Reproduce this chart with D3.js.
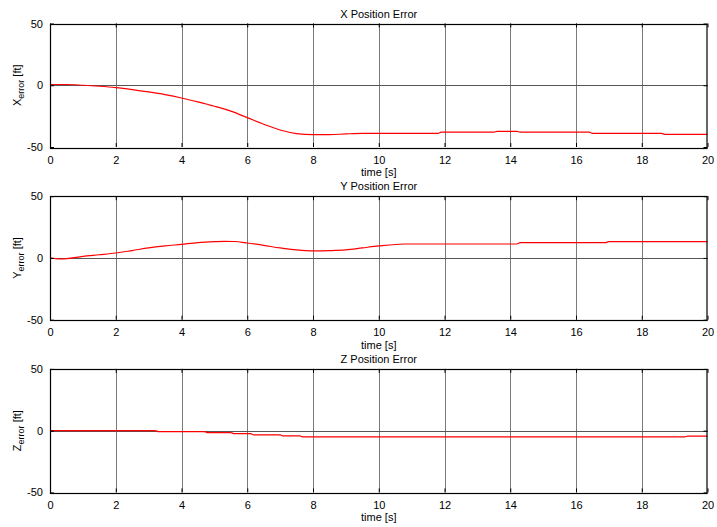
<!DOCTYPE html>
<html>
<head>
<meta charset="utf-8">
<script src="https://cdn.jsdelivr.net/npm/d3@7"></script>
<style>
  body { margin: 0; background: #fff; }
  text { font-family: "Liberation Sans", Arial, sans-serif; font-size: 11px; fill: #000; }
</style>
</head>
<body>
<script>
// values
var xTime = [0, 0.5, 1, 1.5, 2, 2.5, 3, 3.5, 4, 4.5, 5, 5.5, 6, 6.5, 7, 7.5, 8, 8.5, 9, 9.5, 10, 11.8, 11.9, 13.5, 13.6, 14.2, 14.3, 16.4, 16.5, 18.6, 18.7, 20];
var xErr  = [0.6, 0.6, 0, -0.8, -1.9, -3.5, -5.4, -7.6, -10.3, -13.5, -17, -21, -26.2, -31.6, -36.2, -39.1, -40, -40, -39.4, -39, -39, -39, -38, -38, -37.3, -37.3, -38, -38, -39, -39, -39.7, -39.7];

var yTime = [0, 0.3, 0.5, 1, 1.5, 2, 2.5, 3, 3.5, 4, 4.5, 5, 5.3, 5.6, 6, 6.5, 7, 7.5, 8, 8.5, 9, 9.5, 10, 10.8, 14.2, 14.3, 16.9, 17, 20];
var yErr  = [0, -0.8, -0.6, 1.3, 2.6, 4, 6, 8.1, 9.7, 11, 12.4, 13.2, 13.5, 13.3, 12.1, 10.2, 8.1, 6.5, 5.7, 5.9, 6.5, 8.1, 9.7, 11.3, 11.3, 12.4, 12.4, 13.2, 13.2];

var zTime = [0, 3.2, 3.3, 4.7, 4.8, 5.5, 5.6, 6.1, 6.2, 7, 7.1, 7.6, 7.7, 19.3, 19.4, 20];
var zErr  = [0, 0, -0.8, -0.8, -1.6, -1.6, -2.4, -2.4, -3.5, -3.5, -4.3, -4.3, -5.1, -5.1, -4.4, -4.4];

var titles = ["X Position Error", "Y Position Error", "Z Position Error"];
var axisNames = ["X", "Y", "Z"];
var xTicks = [0, 2, 4, 6, 8, 10, 12, 14, 16, 18, 20];
var yTicks = [-50, 0, 50];

var panels = [
  { time: xTime, err: xErr },
  { time: yTime, err: yErr },
  { time: zTime, err: zErr }
];

var width = 717, height = 527;
var left = 50, right = 707.5;
var plotH = 123.5, firstTop = 23.5, step = 172.7;

var svg = d3.select("body").append("svg")
  .attr("width", width)
  .attr("height", height);

var x = d3.scaleLinear().domain([0, 20]).range([left, right]);

// plain hyphen minus like the original
var plain = function(d) { return String(d); };

panels.forEach(function(p, i) {
  var top = firstTop + i * step;
  var y = d3.scaleLinear().domain([-50, 50]).range([top + plotH, top]);
  var g = svg.append("g");

  // vertical grid
  g.selectAll(".vgrid")
    .data(xTicks.slice(1, -1))
    .enter().append("line")
    .attr("x1", function(d) { return Math.round(x(d)) + 0.5; })
    .attr("x2", function(d) { return Math.round(x(d)) + 0.5; })
    .attr("y1", top)
    .attr("y2", top + plotH)
    .attr("stroke", "#7a7a7a")
    .attr("stroke-width", 1);

  // zero line
  g.append("line")
    .attr("x1", left).attr("x2", right)
    .attr("y1", Math.round(y(0)) + 0.5)
    .attr("y2", Math.round(y(0)) + 0.5)
    .attr("stroke", "#555")
    .attr("stroke-width", 1);

  // data line
  var line = d3.line()
    .x(function(d, k) { return x(p.time[k]); })
    .y(function(d) { return y(d); })
    .curve(d3.curveMonotoneX);

  g.append("path")
    .attr("d", line(p.err))
    .attr("fill", "none")
    .attr("stroke", "#ff0000")
    .attr("stroke-width", 1.2);

  // axes with inward ticks
  g.append("g")
    .attr("transform", "translate(0," + (top + plotH) + ")")
    .call(d3.axisBottom(x).tickValues(xTicks).tickSizeInner(-4).tickSizeOuter(0).tickPadding(9).tickFormat(plain));
  g.append("g")
    .attr("transform", "translate(0," + top + ")")
    .call(d3.axisTop(x).tickValues(xTicks).tickSizeInner(-4).tickSizeOuter(0).tickFormat(""));
  g.append("g")
    .attr("transform", "translate(" + left + ",0)")
    .call(d3.axisLeft(y).tickValues(yTicks).tickSizeInner(-4).tickSizeOuter(0).tickPadding(7).tickFormat(plain));
  g.append("g")
    .attr("transform", "translate(" + right + ",0)")
    .call(d3.axisRight(y).tickValues(yTicks).tickSizeInner(-4).tickSizeOuter(0).tickFormat(""));

  g.selectAll(".domain").remove();
  g.selectAll(".tick line").attr("stroke", "#000");
  g.selectAll(".tick text")
    .style("font-family", "'Liberation Sans', Arial, sans-serif")
    .style("font-size", "11px");

  // box
  g.append("rect")
    .attr("x", left + 0.5).attr("y", Math.round(top) + 0.5)
    .attr("width", right - left - 1).attr("height", Math.round(plotH))
    .attr("fill", "none")
    .attr("stroke", "#000")
    .attr("stroke-width", 1.2);

  // title
  g.append("text")
    .attr("x", (left + right) / 2)
    .attr("y", top - 6)
    .attr("text-anchor", "middle")
    .text(titles[i]);

  // x label
  g.append("text")
    .attr("x", (left + right) / 2)
    .attr("y", top + plotH + 29)
    .attr("text-anchor", "middle")
    .text("time [s]");

  // y label with subscript
  var cy = top + plotH / 2;
  var yl = g.append("text")
    .attr("transform", "translate(21," + cy + ") rotate(-90)")
    .attr("text-anchor", "middle");
  yl.append("tspan").text(axisNames[i]);
  yl.append("tspan").attr("dy", 3).style("font-size", "9px").text("error");
  yl.append("tspan").attr("dy", -3).text(" [ft]");
});
</script>
</body>
</html>
